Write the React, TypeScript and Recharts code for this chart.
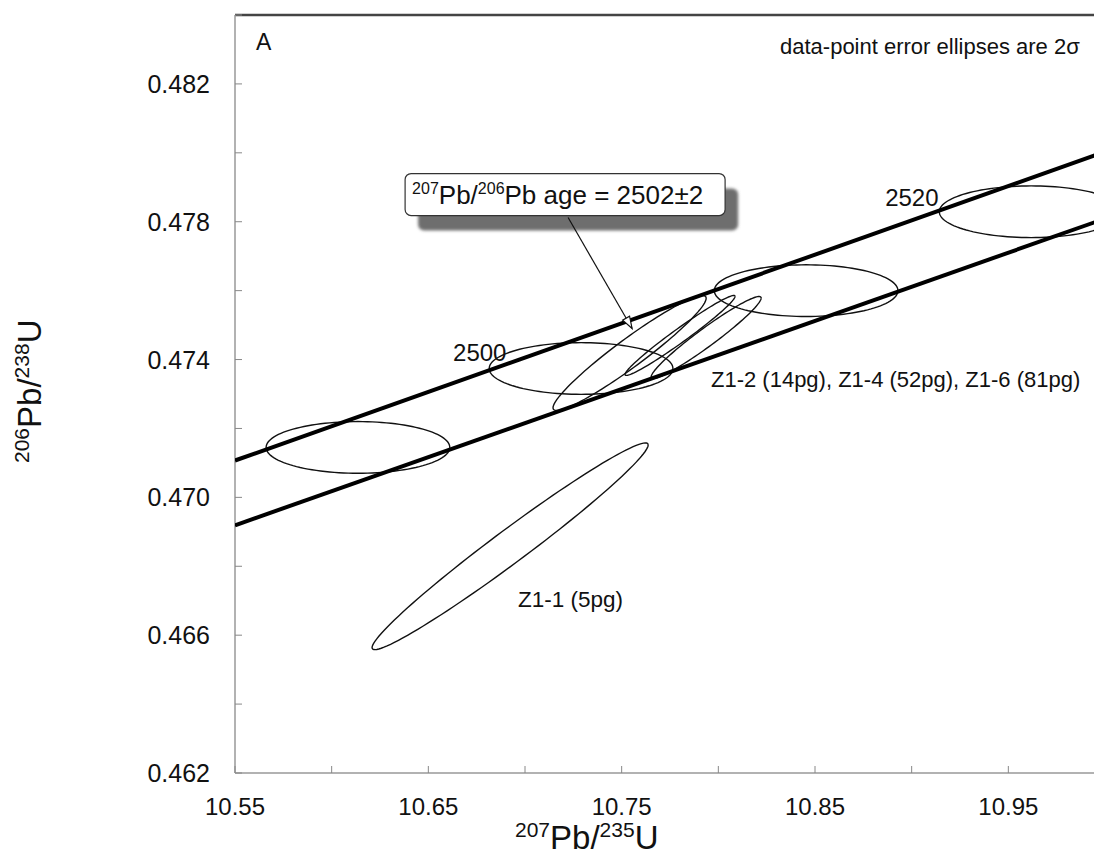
import React from "react";
import { ScatterChart, Scatter, XAxis, YAxis, ReferenceLine, ReferenceDot } from "recharts";

const FONT = "'Liberation Sans', Arial, Helvetica, sans-serif";

// axis ticks (labels on every other tick)
const xTicks = [10.55, 10.6, 10.65, 10.7, 10.75, 10.8, 10.85, 10.9, 10.95, 11.0];
const xTickLabels = ["10.55", "", "10.65", "", "10.75", "", "10.85", "", "10.95", ""];
const yTicks = [0.462, 0.464, 0.466, 0.468, 0.47, 0.472, 0.474, 0.476, 0.478, 0.48, 0.482, 0.484];
const yTickLabels = ["0.462", "", "0.466", "", "0.470", "", "0.474", "", "0.478", "", "0.482", ""];

// concordia band edges
const upperBand = [
  { x: 10.55, y: 0.47107 },
  { x: 11.0, y: 0.48003 },
];
const lowerBand = [
  { x: 10.55, y: 0.46919 },
  { x: 11.0, y: 0.47809 },
];

// age markers along concordia (Ma)
const ageMarkerAges = [2490, 2500, 2510, 2520];
const ageMarkerX = [10.6136, 10.729, 10.8454, 10.9618];
const ageMarkerY = [0.47145, 0.47374, 0.476, 0.47829];
const ageMarkerSx = [0.0475, 0.0475, 0.0475, 0.0475];
const ageMarkerSy = [0.00075, 0.00075, 0.00075, 0.00075];

// zircon analyses, 2 sigma ellipses
const analysisNames = ["Z1-1", "Z1-2", "Z1-4", "Z1-6"];
const analysisX = [10.6923, 10.7541, 10.7802, 10.7937];
const analysisY = [0.46858, 0.47419, 0.4747, 0.47464];
const analysisSx = [0.0714, 0.0396, 0.02845, 0.02845];
const analysisSy = [0.003, 0.001667, 0.00116, 0.00119];
const analysisRho = [0.98, 0.953, 0.977, 0.962];

// text annotations: [text, x, y, font size]
const annotations: [string, number, number, number][] = [
  ["2500", 10.6628, 0.47396, 24],
  ["2520", 10.8863, 0.47846, 24],
  ["Z1-2 (14pg),  Z1-4 (52pg),  Z1-6 (81pg)", 10.7962, 0.4732, 22],
  ["Z1-1 (5pg)", 10.6964, 0.46682, 22.5],
  ["A", 10.5609, 0.48298, 23],
  ["data-point error ellipses are 2σ", 10.8319, 0.48287, 22],
];
const calloutTip = { x: 10.7554, y: 0.4749 };

// outline of an error ellipse from its half-extents and correlation
function ellipse(cx: number, cy: number, sx: number, sy: number, rho: number) {
  const pts = [];
  const k = Math.sqrt(1 - rho * rho);
  for (let i = 0; i <= 120; i++) {
    const t = (i / 120) * Math.PI * 2;
    pts.push({
      x: cx + sx * Math.cos(t),
      y: cy + sy * (rho * Math.cos(t) + k * Math.sin(t)),
    });
  }
  return pts;
}

const ageEllipses = ageMarkerAges.map((_, i) =>
  ellipse(ageMarkerX[i], ageMarkerY[i], ageMarkerSx[i], ageMarkerSy[i], 0)
);
const analysisEllipses = analysisNames.map((_, i) =>
  ellipse(analysisX[i], analysisY[i], analysisSx[i], analysisSy[i], analysisRho[i])
);

const TICK_MARGIN = 25;
const TICK_LEN = 7;

const XTick = (props: any) => {
  const { x, y, payload } = props;
  const i = xTicks.findIndex((v) => Math.abs(v - payload.value) < 1e-9);
  const axisY = y - TICK_MARGIN;
  return (
    <g>
      <line x1={x} x2={x} y1={axisY} y2={axisY - TICK_LEN} stroke="#888" strokeWidth={1} />
      <text x={x} y={y + 17} textAnchor="middle" fontSize={24} fontFamily={FONT} fill="#111">
        {xTickLabels[i]}
      </text>
    </g>
  );
};

const YTick = (props: any) => {
  const { x, y, payload } = props;
  const i = yTicks.findIndex((v) => Math.abs(v - payload.value) < 1e-9);
  const axisX = x + TICK_MARGIN;
  return (
    <g>
      <line x1={axisX} x2={axisX + TICK_LEN} y1={y} y2={y} stroke="#888" strokeWidth={1} />
      <text x={x} y={y + 9} textAnchor="end" fontSize={25} fontFamily={FONT} fill="#111">
        {yTickLabels[i]}
      </text>
    </g>
  );
};

const XLabel = (props: any) => {
  const vb = props.viewBox;
  return (
    <text x={vb.x + 280} y={vb.y + 76} fontFamily={FONT} fill="#111" fontSize={33}>
      <tspan fontSize={21} dy={-12}>207</tspan>
      <tspan dy={12}>Pb/</tspan>
      <tspan fontSize={21} dy={-12}>235</tspan>
      <tspan dy={12}>U</tspan>
    </text>
  );
};

const YLabel = (props: any) => {
  const vb = props.viewBox;
  const x = vb.x - 104;
  const y = vb.y + 448;
  return (
    <text x={x} y={y} transform={`rotate(-90 ${x} ${y})`} fontFamily={FONT} fill="#111" fontSize={33}>
      <tspan fontSize={21} dy={-12}>206</tspan>
      <tspan dy={12}>Pb/</tspan>
      <tspan fontSize={21} dy={-12}>238</tspan>
      <tspan dy={12}>U</tspan>
    </text>
  );
};

const Callout = (props: any) => {
  const { cx, cy } = props;
  const bx = cx - 227;
  const by = cy - 155;
  const ux = 0.5;
  const uy = 0.867;
  const bxp = cx - 12 * ux;
  const byp = cy - 12 * uy;
  return (
    <g>
      <defs>
        <filter id="soft" x="-10%" y="-30%" width="120%" height="160%">
          <feGaussianBlur stdDeviation={1.5} />
        </filter>
      </defs>
      <rect x={bx + 13} y={by + 15} width={320} height={42} rx={6} fill="#6e6e6e" filter="url(#soft)" />
      <rect x={bx} y={by} width={320} height={42} rx={6} fill="#fff" stroke="#333" strokeWidth={1.2} />
      <text x={bx + 7} y={by + 30} fontSize={26} fontFamily={FONT} fill="#111">
        <tspan fontSize={16} dy={-10}>207</tspan>
        <tspan dy={10}>Pb/</tspan>
        <tspan fontSize={16} dy={-10}>206</tspan>
        <tspan dy={10}>Pb age = 2502±2</tspan>
      </text>
      <line x1={cx - 64} y1={cy - 111} x2={cx} y2={cy} stroke="#111" strokeWidth={1.2} />
      <polygon
        points={`${cx},${cy} ${bxp - 4 * uy},${byp + 4 * ux} ${bxp + 4 * uy},${byp - 4 * ux}`}
        fill="#fff"
        stroke="#111"
        strokeWidth={1.2}
      />
    </g>
  );
};

const NoDot = () => <g />;

export default function App() {
  return (
    <div
      style={{
        position: "absolute",
        left: 0,
        top: 0,
        width: 1094,
        height: 855,
        overflow: "hidden",
        background: "#fff",
      }}
    >
      <ScatterChart width={1110} height={855} margin={{ top: 15, right: 5, bottom: 22, left: 145 }}>
        <XAxis
          type="number"
          dataKey="x"
          domain={[10.55, 11.0]}
          allowDataOverflow
          ticks={xTicks}
          interval={0}
          height={60}
          tickSize={0}
          tickMargin={TICK_MARGIN}
          tickLine={false}
          tick={<XTick />}
          axisLine={{ stroke: "#999", strokeWidth: 1.5 }}
          label={{ content: (p: any) => <XLabel {...p} /> }}
        />
        <YAxis
          type="number"
          dataKey="y"
          domain={[0.462, 0.484]}
          allowDataOverflow
          ticks={yTicks}
          interval={0}
          width={90}
          tickSize={0}
          tickMargin={TICK_MARGIN}
          tickLine={false}
          tick={<YTick />}
          axisLine={{ stroke: "#999", strokeWidth: 1.5 }}
          label={{ content: (p: any) => <YLabel {...p} /> }}
        />
        <ReferenceLine y={0.484} stroke="#444" strokeWidth={2.5} />

        {ageEllipses.map((pts, i) => (
          <Scatter
            key={"age" + i}
            data={pts}
            line={{ stroke: "#111", strokeWidth: 1.4 }}
            shape={<NoDot />}
            isAnimationActive={false}
            legendType="none"
          />
        ))}
        {analysisEllipses.map((pts, i) => (
          <Scatter
            key={"an" + i}
            data={pts}
            line={{ stroke: "#111", strokeWidth: 1.4 }}
            shape={<NoDot />}
            isAnimationActive={false}
            legendType="none"
          />
        ))}
        <Scatter
          data={upperBand}
          line={{ stroke: "#000", strokeWidth: 4 }}
          shape={<NoDot />}
          isAnimationActive={false}
          legendType="none"
        />
        <Scatter
          data={lowerBand}
          line={{ stroke: "#000", strokeWidth: 4 }}
          shape={<NoDot />}
          isAnimationActive={false}
          legendType="none"
        />

        {annotations.map(([text, x, y, size]) => (
          <ReferenceDot
            key={text}
            x={x}
            y={y}
            r={0}
            ifOverflow="visible"
            shape={(p: any) => (
              <text x={p.cx} y={p.cy} fontSize={size} fontFamily={FONT} fill="#111">
                {text}
              </text>
            )}
          />
        ))}
        <ReferenceDot x={calloutTip.x} y={calloutTip.y} r={0} ifOverflow="visible" shape={(p: any) => <Callout {...p} />} />
      </ScatterChart>
    </div>
  );
}
